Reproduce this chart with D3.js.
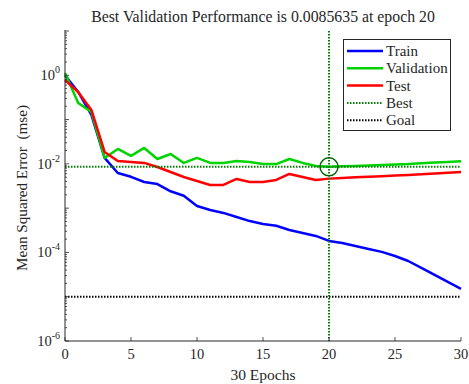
<!DOCTYPE html>
<html>
<head>
<meta charset="utf-8">
<script src="https://cdn.jsdelivr.net/npm/d3@7"></script>
<style>
body{margin:0;background:#fff;}
text{font-family:"Liberation Serif","Times New Roman",serif;fill:#262626;}
</style>
</head>
<body>
<svg id="chart" width="469" height="384"></svg>
<script>
var epochs = d3.range(0, 31);
var trainPerf = [1.0,0.42,0.127,0.0136,0.0062,0.0051,0.0039,0.0035,0.0024,0.0019,0.00112,0.00091,0.00078,0.00063,0.00051,0.00044,0.00040,0.00032,0.000275,0.000236,0.000182,0.000164,0.000140,0.000120,0.000103,0.000083,0.000064,0.000045,0.000031,0.0000216,0.000015];
var valPerf = [1.13,0.237,0.149,0.0136,0.0217,0.0151,0.0229,0.0129,0.0167,0.0105,0.0136,0.0105,0.0105,0.0116,0.0110,0.0099,0.0099,0.0129,0.0105,0.0090,0.0085635,0.00883,0.0090,0.00917,0.00945,0.0097,0.0099,0.0103,0.0107,0.0110,0.0114];
var testPerf = [0.78,0.42,0.165,0.0186,0.0116,0.0110,0.0105,0.0085,0.00656,0.00506,0.00411,0.00334,0.00334,0.00456,0.0039,0.0039,0.00433,0.00592,0.00506,0.00433,0.00464,0.00481,0.00496,0.00512,0.00528,0.00544,0.00561,0.00582,0.00604,0.0063,0.00656];
var bestEpoch = 20;
var bestPerf = 0.0085635;
var goalPerf = 1e-5;
var xTicks = [0,5,10,15,20,25,30];
var yLabelExps = [0,-2,-4,-6];
var legendNames = ["Train","Validation","Test","Best","Goal"];

var svg = d3.select("#chart");
var plotL = 65, plotR = 461, plotT = 31, plotB = 341;

var x = d3.scaleLinear().domain([0,30]).range([plotL,plotR]);
var y = d3.scaleLog().domain([1e-6,10]).range([plotB,plotT]);

function drawAxes(){
    var axisColor = "#262626";
    // minor + major ticks on y
    var yTicks = [];
    for(let e=-6;e<1;e++){
        for(let m=1;m<10;m++){
            yTicks.push({v:m*Math.pow(10,e),major:m==1});
        }
    }
    yTicks.push({v:10,major:true});
    svg.append("g").selectAll("line")
        .data(yTicks)
        .enter()
        .append("line")
        .attr("x1",plotL)
        .attr("x2",function(d){return d.major ? plotL+4 : plotL+2;})
        .attr("y1",function(d){return y(d.v);})
        .attr("y2",function(d){return y(d.v);})
        .attr("stroke",axisColor)
        .attr("stroke-width",0.8);

    svg.append("g").selectAll("line")
        .data(xTicks)
        .enter()
        .append("line")
        .attr("x1",function(d){return x(d);})
        .attr("x2",function(d){return x(d);})
        .attr("y1",plotB)
        .attr("y2",plotB-4)
        .attr("stroke",axisColor)
        .attr("stroke-width",0.8);

    svg.append("line").attr("x1",plotL).attr("x2",plotL).attr("y1",plotT-1).attr("y2",plotB)
        .attr("stroke",axisColor).attr("stroke-width",1);
    svg.append("line").attr("x1",plotL).attr("x2",plotR).attr("y1",plotB).attr("y2",plotB)
        .attr("stroke",axisColor).attr("stroke-width",1);

    svg.append("g").selectAll("text")
        .data(xTicks)
        .enter()
        .append("text")
        .attr("x",function(d){return x(d);})
        .attr("y",plotB+18)
        .attr("text-anchor","middle")
        .attr("font-size","14.5px")
        .text(function(d){return d;});

    var yl = svg.append("g").selectAll("text")
        .data(yLabelExps)
        .enter()
        .append("text")
        .attr("x",plotL-5)
        .attr("y",function(d){return y(Math.pow(10,d))+5;})
        .attr("text-anchor","end")
        .attr("font-size","14.5px");
    yl.append("tspan").text("10");
    yl.append("tspan")
        .attr("dy",-7)
        .attr("font-size","10px")
        .text(function(d){return d;});

    svg.append("text")
        .attr("x",(plotL+plotR)/2)
        .attr("y",380)
        .attr("text-anchor","middle")
        .attr("font-size","15.5px")
        .text("30 Epochs");

    svg.append("text")
        .attr("transform","translate(27,"+((plotT+plotB)/2+2)+") rotate(-90)")
        .attr("text-anchor","middle")
        .attr("font-size","15.2px")
        .style("white-space","pre")
        .text("Mean Squared Error  (mse)");

    svg.append("text")
        .attr("x",263)
        .attr("y",22)
        .attr("text-anchor","middle")
        .attr("font-size","15.8px")
        .attr("fill","#000")
        .text("Best Validation Performance is " + bestPerf + " at epoch " + bestEpoch);
}

function drawLines(){
    var line = d3.line()
        .x(function(d,i){return x(epochs[i]);})
        .y(function(d){return y(d);});

    var series = [
        {data:trainPerf,color:"#0000ff"},
        {data:valPerf,color:"#00d400"},
        {data:testPerf,color:"#ff0000"}
    ];

    // goal and best reference lines
    svg.append("line")
        .attr("x1",x(0)).attr("x2",x(30))
        .attr("y1",y(goalPerf)).attr("y2",y(goalPerf))
        .attr("stroke","#000").attr("stroke-width",2).attr("stroke-dasharray","1.5,1.5");

    svg.selectAll("path.series")
        .data(series)
        .enter()
        .append("path")
        .attr("class","series")
        .attr("d",function(d){return line(d.data);})
        .attr("fill","none")
        .attr("stroke",function(d){return d.color;})
        .attr("stroke-width",2.5)
        .attr("stroke-linejoin","round");

    svg.append("line")
        .attr("x1",x(0)).attr("x2",x(30))
        .attr("y1",y(bestPerf)).attr("y2",y(bestPerf))
        .attr("stroke","#008000").attr("stroke-width",2).attr("stroke-dasharray","1.5,1.5");
    svg.append("line")
        .attr("x1",x(bestEpoch)).attr("x2",x(bestEpoch))
        .attr("y1",y(10)).attr("y2",y(1e-6))
        .attr("stroke","#008000").attr("stroke-width",2).attr("stroke-dasharray","1.5,1.5");
    svg.append("circle")
        .attr("cx",x(bestEpoch))
        .attr("cy",y(bestPerf))
        .attr("r",9)
        .attr("fill","none")
        .attr("stroke","#006400")
        .attr("stroke-width",1.5);
}

function drawLegend(){
    var colors = ["#0000ff","#00d400","#ff0000","#008000","#000"];
    var g = svg.append("g");
    g.append("rect")
        .attr("x",343.5).attr("y",39.5)
        .attr("width",107).attr("height",91)
        .attr("fill","#fff")
        .attr("stroke","#262626")
        .attr("stroke-width",1);

    var rows = g.selectAll("g.row")
        .data(legendNames)
        .enter()
        .append("g")
        .attr("class","row")
        .attr("transform",function(d,i){return "translate(0,"+(51+i*17.3)+")";});

    rows.append("line")
        .attr("x1",347).attr("x2",383)
        .attr("y1",0).attr("y2",0)
        .attr("stroke",function(d,i){return colors[i];})
        .attr("stroke-width",function(d,i){return i<3 ? 2.5 : 2;})
        .attr("stroke-dasharray",function(d,i){return i<3 ? null : "1.5,1.5";});

    rows.append("text")
        .attr("x",386)
        .attr("y",5)
        .attr("font-size","15px")
        .attr("fill","#000")
        .text(function(d){return d;});
}

drawLines();
drawAxes();
drawLegend();
</script>
</body>
</html>
